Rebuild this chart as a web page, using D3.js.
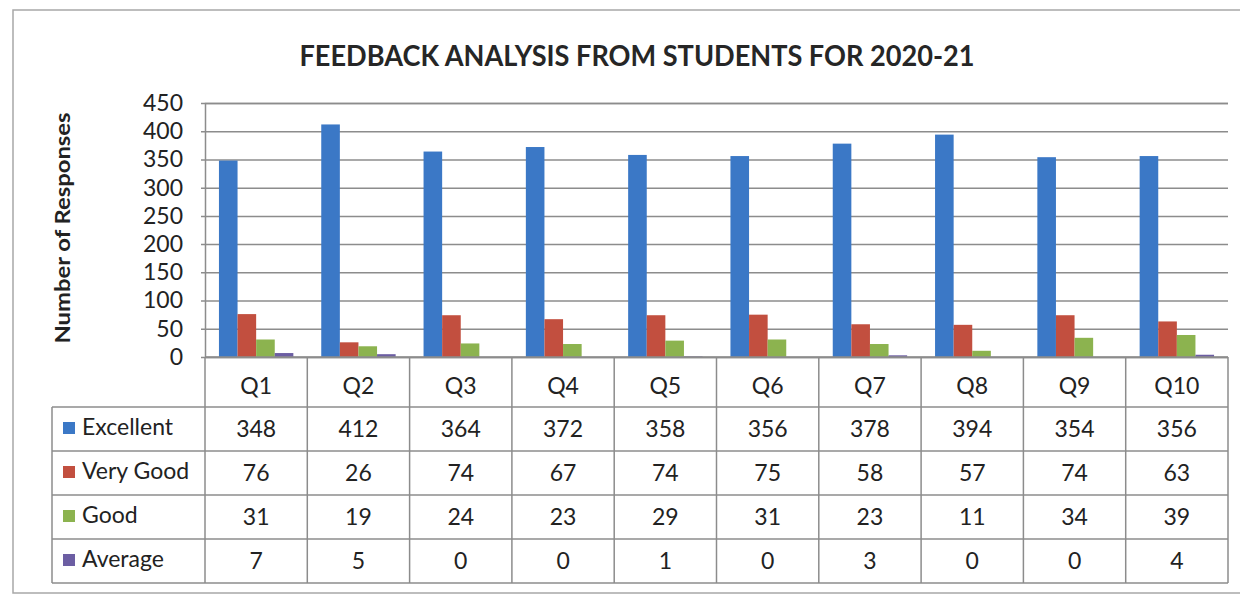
<!DOCTYPE html>
<html>
<head>
<meta charset="utf-8">
<script src="https://cdn.jsdelivr.net/npm/d3@7"></script>
<style>
  body { margin: 0; background: #fff; }
  svg { display: block; font-family: Lato, "Open Sans", sans-serif; }
</style>
</head>
<body>
<div id="chart"></div>
<script>
const questions = ['Q1', 'Q2', 'Q3', 'Q4', 'Q5', 'Q6', 'Q7', 'Q8', 'Q9', 'Q10'];
const seriesNames = ['Excellent', 'Very Good', 'Good', 'Average'];
const excellent = [348, 412, 364, 372, 358, 356, 378, 394, 354, 356];
const veryGood  = [76, 26, 74, 67, 74, 75, 58, 57, 74, 63];
const good      = [31, 19, 24, 23, 29, 31, 23, 11, 34, 39];
const average   = [7, 5, 0, 0, 1, 0, 3, 0, 0, 4];
const yTicks = [0, 50, 100, 150, 200, 250, 300, 350, 400, 450];

const seriesValues = [excellent, veryGood, good, average];
const colors = ['#3b78c6', '#c24f3f', '#8cb34f', '#6c5ea3'];

const W = 1247, H = 596;
const plotL = 205, plotR = 1228, plotT = 103, plotB = 357;
const rowH = 44, headH = 50, legendL = 52;
const lineCol = '#8c8c8c';
const FS = 23;

const svg = d3.select('#chart').append('svg').attr('width', W).attr('height', H);

// outer frame (left, top, bottom)
svg.append('path')
  .attr('d', `M1240,10 H13 V593 H1240`)
  .attr('fill', 'none').attr('stroke', '#a8a8a8').attr('stroke-width', 1.5);

svg.append('text')
  .attr('x', 637).attr('y', 66)
  .attr('text-anchor', 'middle')
  .attr('font-size', 28).attr('font-weight', 700).attr('fill', '#262626')
  .attr('textLength', 675).attr('lengthAdjust', 'spacingAndGlyphs')
  .text('FEEDBACK ANALYSIS FROM STUDENTS FOR 2020-21');

const x0 = d3.scaleBand().domain(questions).range([plotL, plotR]);
const x1 = d3.scaleBand().domain(seriesNames).range([0, x0.bandwidth()])
  .paddingInner(0).paddingOuter(0.75);
const y = d3.scaleLinear().domain([0, 450]).range([plotB, plotT]);

// gridlines + y ticks
const yAxis = d3.axisLeft(y).tickValues(yTicks).tickSize(-(plotR - plotL)).tickPadding(22);
const ya = svg.append('g').attr('transform', `translate(${plotL},0)`).call(yAxis);
ya.select('.domain').attr('stroke', lineCol).attr('stroke-width', 1.5);
ya.selectAll('.tick line').attr('stroke', lineCol).attr('stroke-width', 1.5).attr('x1', -4);
ya.selectAll('.tick text')
  .attr('font-size', FS).attr('fill', '#222').attr('font-family', 'Lato, sans-serif');

svg.append('text')
  .attr('transform', `translate(70,228) rotate(-90)`)
  .attr('text-anchor', 'middle')
  .attr('font-size', 21).attr('font-weight', 700).attr('fill', '#222')
  .attr('textLength', 231).attr('lengthAdjust', 'spacingAndGlyphs')
  .text('Number of Responses');

// bars
const groups = svg.append('g').selectAll('g')
  .data(questions).join('g')
  .attr('transform', d => `translate(${x0(d)},0)`);

groups.selectAll('rect')
  .data((q, qi) => seriesNames.map((s, si) => ({ s, si, v: seriesValues[si][qi] })))
  .join('rect')
  .attr('x', d => x1(d.s))
  .attr('width', x1.bandwidth())
  .attr('y', d => y(d.v))
  .attr('height', d => plotB - y(d.v))
  .attr('fill', d => colors[d.si]);

// data table
const tableB = plotB + headH + rowH * seriesNames.length;
const t = svg.append('g');

// horizontal lines
t.append('line').attr('x1', plotL).attr('x2', plotR).attr('y1', plotB).attr('y2', plotB)
  .attr('stroke', lineCol).attr('stroke-width', 1.5);
for (let i = 0; i <= seriesNames.length; i++) {
  const yy = plotB + headH + i * rowH;
  t.append('line').attr('x1', legendL).attr('x2', plotR).attr('y1', yy).attr('y2', yy)
    .attr('stroke', lineCol).attr('stroke-width', 1.5);
}
// vertical lines
const cols = questions.map(q => x0(q)).concat([plotR]);
cols.forEach(cx => {
  t.append('line').attr('x1', cx).attr('x2', cx).attr('y1', plotB).attr('y2', tableB)
    .attr('stroke', lineCol).attr('stroke-width', 1.5);
});
t.append('line').attr('x1', legendL).attr('x2', legendL)
  .attr('y1', plotB + headH).attr('y2', tableB)
  .attr('stroke', lineCol).attr('stroke-width', 1.5);

// header labels
t.selectAll('text.q').data(questions).join('text')
  .attr('class', 'q')
  .attr('x', d => x0(d) + x0.bandwidth() / 2)
  .attr('y', plotB + headH / 2 + 6)
  .attr('dominant-baseline', 'middle').attr('text-anchor', 'middle')
  .attr('font-size', FS).attr('fill', '#222')
  .text(d => d);

seriesNames.forEach((s, si) => {
  const cy = plotB + headH + si * rowH + rowH / 2;
  t.append('rect').attr('x', 63).attr('y', cy - 7).attr('width', 12).attr('height', 12)
    .attr('fill', colors[si]);
  t.append('text').attr('x', 82).attr('y', cy)
    .attr('dominant-baseline', 'middle')
    .attr('font-size', FS).attr('fill', '#222').text(s);
  t.selectAll(null).data(seriesValues[si]).join('text')
    .attr('x', (d, i) => x0(questions[i]) + x0.bandwidth() / 2)
    .attr('y', cy + 2)
    .attr('dominant-baseline', 'middle').attr('text-anchor', 'middle')
    .attr('font-size', FS).attr('fill', '#222')
    .text(d => d);
});
</script>
</body>
</html>
